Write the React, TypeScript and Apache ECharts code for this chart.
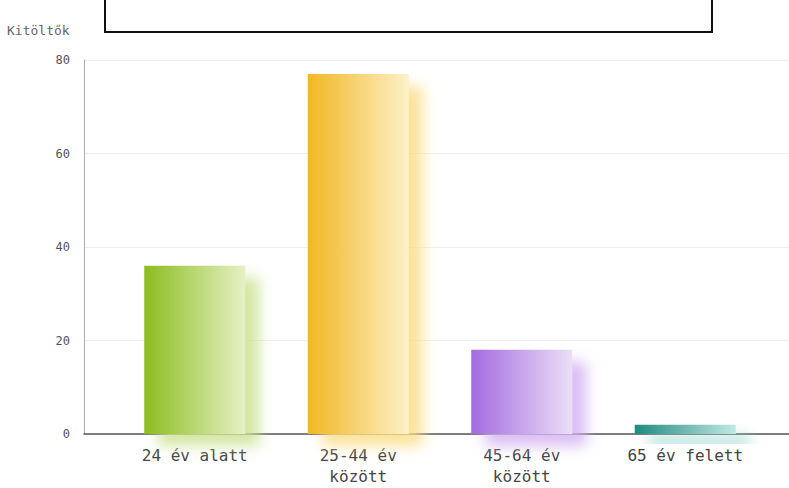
import React, { useEffect, useRef } from "react";
import * as echarts from "echarts";

const categories = ["24 év alatt", "25-44 év\nközött", "45-64 év\nközött", "65 év felett"];
const values = [36, 77, 18, 2];
const yTicks = [0, 20, 40, 60, 80];
const yAxisTitle = "Kitöltők";
const leftColors = ["#8cbd1f", "#f2b724", "#a36be0", "#1f8a80"];
const rightColors = ["#e6f1c4", "#fdf1c8", "#ecdff7", "#c2e9e4"];
const shadowColors = ["rgba(200,225,140,0.8)", "rgba(250,220,130,0.8)", "rgba(210,175,240,0.8)", "rgba(140,210,200,0.8)"];

export default function App() {
  const ref = useRef<HTMLDivElement>(null);
  useEffect(() => {
    document.body.style.margin = "0";
    const chart = echarts.init(ref.current!, null, { renderer: "svg" });
    const mono = "'DejaVu Sans Mono', monospace";
    chart.setOption({
      animation: false,
      backgroundColor: "#ffffff",
      grid: [
        { left: 84, right: 0, top: 60, bottom: 54 },
        { left: 113, right: 22, top: 60, bottom: 54 },
      ],
      xAxis: [
        {
          gridIndex: 0,
          type: "value",
          min: 0,
          max: 1,
          axisLine: { show: true, onZero: false, lineStyle: { color: "#555", width: 1.5 } },
          axisTick: { show: false },
          axisLabel: { show: false },
          splitLine: { show: false },
        },
        {
          gridIndex: 1,
          type: "category",
          data: categories,
          axisLine: { show: false },
          axisTick: { show: false },
          axisLabel: { color: "#444", fontSize: 16, fontFamily: mono, lineHeight: 21, margin: 11, interval: 0 },
        },
      ],
      yAxis: [
        {
          gridIndex: 0,
          type: "value",
          min: yTicks[0],
          max: yTicks[yTicks.length - 1],
          interval: 20,
          axisLine: { show: true, lineStyle: { color: "#aaa" } },
          axisTick: { show: false },
          axisLabel: { color: "#555", fontSize: 12, fontFamily: mono, margin: 14 },
          splitLine: { show: true, lineStyle: { color: "#eeeeee" } },
        },
        {
          gridIndex: 1,
          type: "value",
          min: 0,
          max: 80,
          show: false,
          splitLine: { show: false },
        },
      ],
      series: [
        {
          type: "bar",
          xAxisIndex: 1,
          yAxisIndex: 1,
          barWidth: 101,
          data: values.map((v, i) => ({
            value: v,
            itemStyle: {
              color: new echarts.graphic.LinearGradient(0, 0, 1, 0, [
                { offset: 0, color: leftColors[i] },
                { offset: 1, color: rightColors[i] },
              ]),
              shadowColor: shadowColors[i],
              shadowBlur: 14,
              shadowOffsetX: 14,
              shadowOffsetY: 12,
            },
          })),
        },
      ],
      graphic: [
        {
          type: "rect",
          left: 104,
          top: -4,
          shape: { width: 607, height: 35 },
          style: { fill: "#fff", stroke: "#111", lineWidth: 2 },
        },
        {
          type: "text",
          left: 7,
          top: 24,
          style: { text: yAxisTitle, fill: "#666", font: `13px ${mono}` },
        },
      ],
    });
    return () => chart.dispose();
  }, []);
  return <div ref={ref} style={{ width: 789, height: 488, position: "absolute", left: 0, top: 0 }} />;
}
